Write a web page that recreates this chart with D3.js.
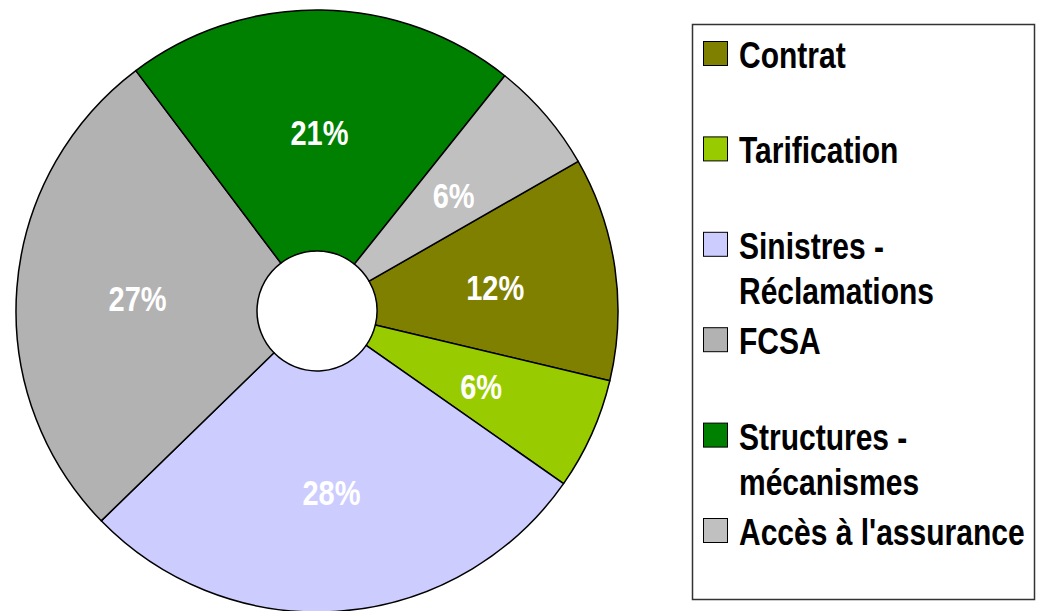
<!DOCTYPE html>
<html lang="fr">
  <head>
    <meta charset="UTF-8" />
    <title>Répartition des thèmes</title>
    <style>
      html,
      body {
        margin: 0;
        background: #fff;
      }
      text {
        font-family: "Liberation Sans", Arial, sans-serif;
        font-weight: bold;
      }
    </style>
    <script src="https://cdn.jsdelivr.net/npm/d3@7"></script>
  </head>

  <body>
    <script>
      // données
      const categories = [
        "Contrat",
        "Tarification",
        "Sinistres - Réclamations",
        "FCSA",
        "Structures - mécanismes",
        "Accès à l'assurance",
      ];
      const values = [12, 6, 28, 27, 21, 6];
      const colors = ["#808000", "#99cc00", "#ccccff", "#b2b2b2", "#008000", "#c0c0c0"];

      const width = 1039;
      const height = 611;
      const cx = 317;
      const cy = 311;
      const outerR = 301;
      const innerR = 60;
      const labelR = 180;
      const stretch = 1.22; // le texte de l'original est étiré en hauteur

      const svg = d3
        .select("body")
        .append("svg")
        .attr("width", width)
        .attr("height", height);

      const color = d3.scaleOrdinal().domain(categories).range(colors);

      // secteurs : le premier commence vers 60°
      const start = (60.2 * Math.PI) / 180;
      const pie = d3
        .pie()
        .sort(null)
        .value((d) => d.value)
        .startAngle(start)
        .endAngle(start + 2 * Math.PI);

      const data = categories.map((c, i) => ({ name: c, value: values[i] }));
      const arcs = pie(data);
      const total = d3.sum(values);

      const arc = d3.arc().innerRadius(innerR).outerRadius(outerR);
      const labelArc = d3.arc().innerRadius(labelR).outerRadius(labelR);

      const g = svg.append("g").attr("transform", `translate(${cx},${cy})`);

      g.selectAll("path")
        .data(arcs)
        .enter()
        .append("path")
        .attr("d", arc)
        .attr("fill", (d) => color(d.data.name))
        .attr("stroke", "#000")
        .attr("stroke-width", 1.5)
        .attr("stroke-linejoin", "round");

      // pourcentages
      const fs = 29;
      g.selectAll(".pct")
        .data(arcs)
        .enter()
        .append("text")
        .attr("class", "pct")
        .attr("transform", (d) => {
          const [x, y] = labelArc.centroid(d);
          return `translate(${x},${y + 1.5}) scale(1,${stretch})`;
        })
        .attr("y", fs * 0.358)
        .attr("text-anchor", "middle")
        .attr("font-size", fs)
        .attr("fill", "#fff")
        .text((d) => Math.round((d.data.value / total) * 100) + "%");

      // légende
      const legend = svg.append("g");
      legend
        .append("rect")
        .attr("x", 692.5)
        .attr("y", 24.5)
        .attr("width", 342)
        .attr("height", 575)
        .attr("fill", "#fff")
        .attr("stroke", "#333")
        .attr("stroke-width", 1.5);

      const ly = d3
        .scalePoint()
        .domain(categories)
        .range([68, 545]);

      const items = legend
        .selectAll(".item")
        .data(categories)
        .enter()
        .append("g")
        .attr("class", "item");

      items
        .append("rect")
        .attr("x", 703.5)
        .attr("y", (d) => ly(d) - 26.5)
        .attr("width", 24)
        .attr("height", 24)
        .attr("fill", (d) => color(d))
        .attr("stroke", "#000")
        .attr("stroke-width", 1);

      const lfs = 30;
      const lineGap = 45 / stretch;
      items
        .append("text")
        .attr("transform", (d) => `translate(739,${ly(d)}) scale(1,${stretch})`)
        .attr("font-size", lfs)
        .attr("fill", "#000")
        .each(function (d) {
          const parts = d.split(" - ");
          const lines = parts.length > 1 ? [parts[0] + " -", parts[1]] : [d];
          d3.select(this)
            .selectAll("tspan")
            .data(lines)
            .enter()
            .append("tspan")
            .attr("x", 0)
            .attr("y", (l, i) => i * lineGap)
            .text((l) => l);
        });
    </script>
  </body>
</html>
